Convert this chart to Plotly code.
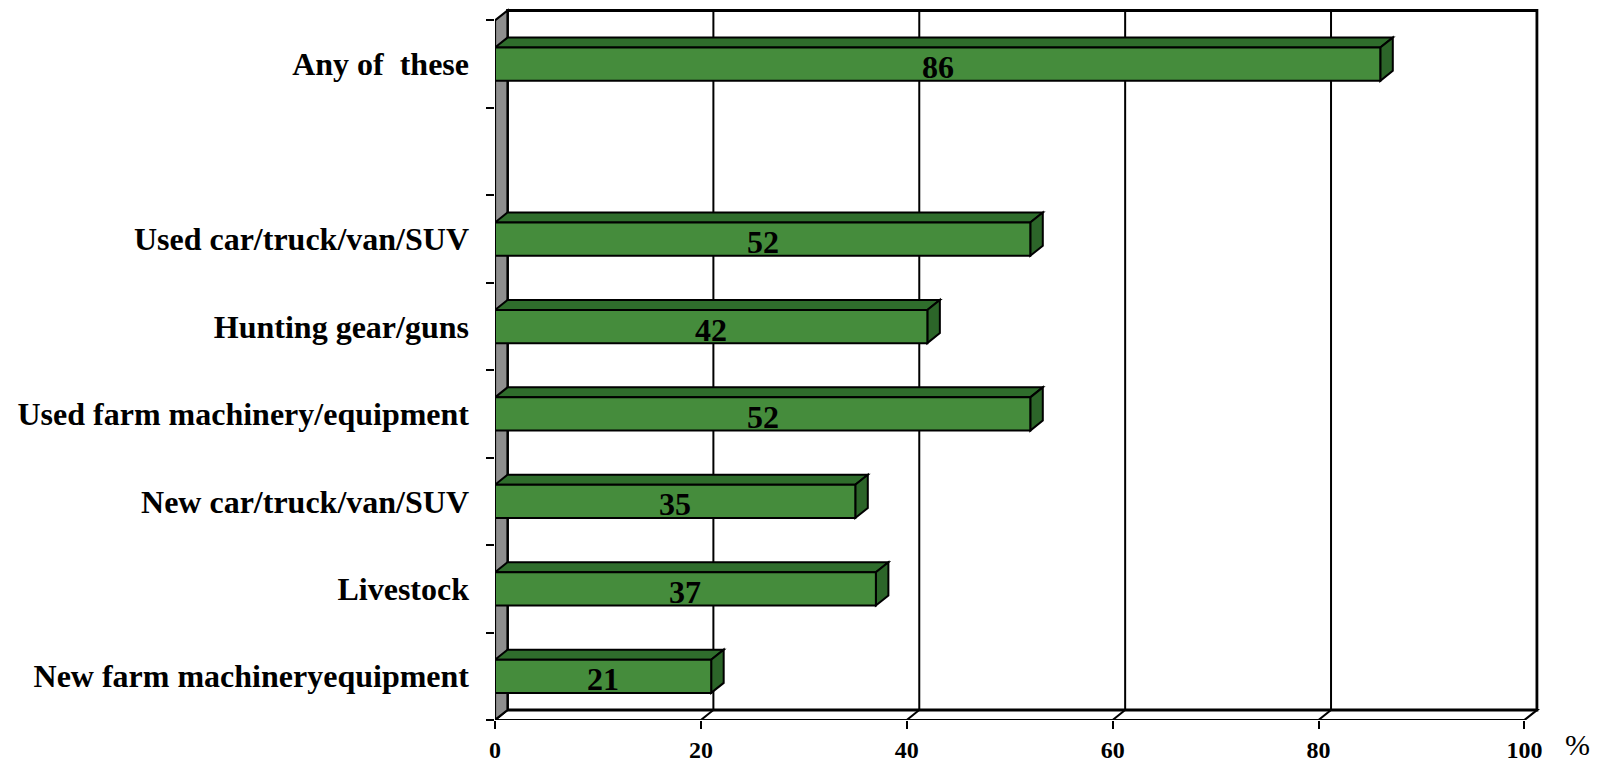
import plotly.graph_objects as go

# Data (top to bottom as shown)
categories = ["Any of\u00a0 these", " ", "Used car/truck/van/SUV", "Hunting gear/guns",
              "Used farm machinery/equipment", "New car/truck/van/SUV", "Livestock",
              "New farm machineryequipment"]
values = [86, None, 52, 42, 52, 35, 37, 21]
x_ticks = [0, 20, 40, 60, 80, 100]

# plotly draws first category at bottom -> reverse
cats = categories[::-1]
vals = values[::-1]

FRONT = "#458C3C"
TOP = "#2F6D2C"
SIDE = "#2C6529"
GRAY = "#8E8E8E"

PX_PER_X = 10.29
PX_PER_Y = 87.5
DX = 12.5 / PX_PER_X
DY = 10.0 / PX_PER_Y
H = 0.19
N = len(cats)
Y0 = -0.5
Y1 = N - 0.5
XMAX = 100

W, HT = 1604, 766
L = 495
XR = 102
PLOT_W = XR * PX_PER_X
R = W - L - PLOT_W
YTOP = 7.7
B = 766 - 720
PLOT_H = (YTOP - Y0) * PX_PER_Y
T = HT - B - PLOT_H

shapes = []

def poly(pts, fill, lw=2, layer="below", color="black"):
    d = "M " + " L ".join(f"{x},{y}" for x, y in pts) + " Z"
    return dict(type="path", path=d, xref="x", yref="y", fillcolor=fill,
                line=dict(color=color, width=lw), layer=layer)

# floor
shapes.append(poly([(0, Y0), (XMAX, Y0), (XMAX + DX, Y0 + DY), (DX, Y0 + DY)], "white", 2.2))
# back wall
shapes.append(poly([(DX, Y0 + DY), (XMAX + DX, Y0 + DY), (XMAX + DX, Y1 + DY), (DX, Y1 + DY)],
                   "rgba(0,0,0,0)", 2.8))
# gridlines on back wall and floor diagonals
for t in x_ticks[1:-1]:
    shapes.append(dict(type="line", xref="x", yref="y", x0=t + DX, x1=t + DX,
                       y0=Y0 + DY, y1=Y1 + DY, line=dict(color="black", width=2), layer="below"))
    shapes.append(dict(type="line", xref="x", yref="y", x0=t, x1=t + DX,
                       y0=Y0, y1=Y0 + DY, line=dict(color="black", width=2), layer="below"))
# left wall
shapes.append(poly([(0, Y0), (0, Y1), (DX, Y1 + DY), (DX, Y0 + DY)], GRAY, 2.2))

# bar top and side faces
for i, v in enumerate(vals):
    if v is None:
        continue
    shapes.append(poly([(0, i + H), (v, i + H), (v + DX, i + H + DY), (DX, i + H + DY)], TOP, 2))
    shapes.append(poly([(v, i - H), (v, i + H), (v + DX, i + H + DY), (v + DX, i - H + DY)], SIDE, 2))

fig = go.Figure()
fig.add_trace(go.Bar(
    x=vals, y=cats, orientation="h", width=2 * H,
    marker=dict(color=FRONT, line=dict(color="black", width=2)),
    hoverinfo="skip", showlegend=False,
))

annotations = []
for i, v in enumerate(vals):
    if v is None:
        continue
    annotations.append(dict(x=v / 2, y=i, xref="x", yref="y", text=str(v), showarrow=False,
                            yshift=-3,
                            font=dict(family="Liberation Serif", size=32, color="black", weight="bold")))
annotations.append(dict(x=(1577 - L) / PLOT_W, y=-(745 - 720) / PLOT_H, xref="paper", yref="paper",
                        text="%", showarrow=False, xanchor="center", yanchor="middle",
                        font=dict(family="Liberation Serif", size=30, color="black")))

fig.update_layout(
    width=W, height=HT,
    margin=dict(l=L, r=R, t=T, b=B, pad=0),
    paper_bgcolor="white", plot_bgcolor="white",
    shapes=shapes, annotations=annotations,
    xaxis=dict(range=[0, XR], tickvals=x_ticks, ticktext=[str(t) for t in x_ticks],
               automargin=False,
               showgrid=False, zeroline=False, showline=False,
               ticks="outside", ticklen=8, tickwidth=1.5, tickcolor="black",
               ticklabelstandoff=0,
               tickfont=dict(family="Liberation Serif", size=24, color="black", weight="bold")),
    yaxis=dict(type="category", categoryorder="array", categoryarray=cats,
               range=[Y0, YTOP], tickson="boundaries", automargin=False,
               showgrid=False, zeroline=False, showline=False,
               ticks="outside", ticklen=8, tickwidth=1.5, tickcolor="black",
               ticklabelstandoff=25,
               tickfont=dict(family="Liberation Serif", size=32, color="black", weight="bold")),
    bargap=0.6,
)

fig.write_html("out.html", config={"displayModeBar": False},
               post_script="document.body.style.margin='0';document.body.style.overflow='hidden';")
